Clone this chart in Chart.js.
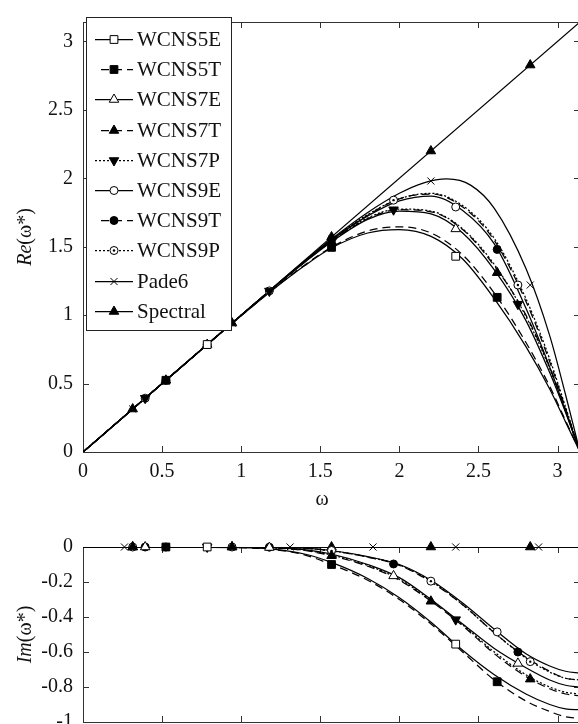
<!DOCTYPE html>
<html>
<head>
<meta charset="utf-8">
<script src="https://cdn.jsdelivr.net/npm/chart.js"></script>
<style>
    html, body { margin: 0; padding: 0; background: #fff; overflow: hidden; }
    #wrap { position: relative; width: 578px; height: 724px; overflow: hidden; }
    #chart_re { position: absolute; left: 0; top: 0; }
    #chart_im { position: absolute; left: 0; top: 520px; }
</style>
</head>
<body>
<div id="wrap">
    <canvas id="chart_re" width="590" height="520"></canvas>
    <canvas id="chart_im" width="590" height="250"></canvas>
</div>
<script>
'use strict';

const PI_MAX = 3.1416;
const labels = ['WCNS5E', 'WCNS5T', 'WCNS7E', 'WCNS7T', 'WCNS7P', 'WCNS9E', 'WCNS9T', 'WCNS9P', 'Pade6', 'Spectral'];
const xTicks = [0, 0.5, 1, 1.5, 2, 2.5, 3];
const reTicks = [0, 0.5, 1, 1.5, 2, 2.5, 3];
const imTicks = [0, -0.2, -0.4, -0.6, -0.8, -1];
const reTitle = ['Re', '(ω*)'];
const imTitle = ['Im', '(ω*)'];
const xTitle = 'ω';

// x positions of the curves
const curveX = [0, 0.5, 1.0, 1.2, 1.4, 1.57, 1.8, 2.0, 2.2, 2.4, 2.6, 2.8, 2.95, 3.05, 3.1416];
const pade6X = [0, 0.5, 1.0, 1.2, 1.4, 1.57, 1.8, 2.0, 2.15, 2.3, 2.45, 2.6, 2.8, 2.95, 3.05, 3.1416];
const lineX = [0, 3.1416];

// Re(w*)
const re5E = [0, 0.5, 0.995, 1.185, 1.36, 1.49, 1.60, 1.625, 1.575, 1.41, 1.12, 0.77, 0.46, 0.22, 0];
const re5T = [0, 0.5, 0.995, 1.188, 1.365, 1.495, 1.615, 1.645, 1.60, 1.44, 1.16, 0.80, 0.48, 0.23, 0];
const re7E = [0, 0.5, 1.0, 1.195, 1.385, 1.535, 1.70, 1.76, 1.74, 1.60, 1.33, 0.96, 0.58, 0.29, 0];
const re7T = [0, 0.5, 1.0, 1.195, 1.387, 1.538, 1.705, 1.77, 1.755, 1.625, 1.36, 1.00, 0.62, 0.31, 0];
const re7P = [0, 0.5, 1.0, 1.196, 1.389, 1.54, 1.71, 1.775, 1.76, 1.63, 1.37, 0.99, 0.61, 0.30, 0];
const re9E = [0, 0.5, 1.0, 1.197, 1.392, 1.548, 1.725, 1.835, 1.87, 1.765, 1.52, 1.05, 0.62, 0.30, 0];
const re9T = [0, 0.5, 1.0, 1.198, 1.393, 1.55, 1.73, 1.85, 1.885, 1.79, 1.545, 1.10, 0.66, 0.32, 0];
const re9P = [0, 0.5, 1.0, 1.198, 1.394, 1.551, 1.735, 1.85, 1.89, 1.80, 1.56, 1.12, 0.68, 0.33, 0];
const rePade6 = [0, 0.5, 1.0, 1.199, 1.395, 1.555, 1.75, 1.89, 1.965, 1.995, 1.95, 1.78, 1.34, 0.85, 0.42, 0];
const reSpectral = [0, 3.1416];

// Im(w*)
const im5E = [0, 0, -0.003, -0.012, -0.04, -0.088, -0.18, -0.29, -0.43, -0.59, -0.73, -0.84, -0.90, -0.925, -0.93];
const im5T = [0, 0, -0.004, -0.014, -0.045, -0.10, -0.19, -0.30, -0.44, -0.60, -0.76, -0.88, -0.94, -0.97, -0.98];
const im7E = [0, 0, 0, -0.004, -0.015, -0.04, -0.10, -0.175, -0.30, -0.44, -0.58, -0.69, -0.76, -0.79, -0.80];
const im7T = [0, 0, 0, -0.005, -0.02, -0.05, -0.11, -0.19, -0.31, -0.45, -0.61, -0.74, -0.81, -0.84, -0.85];
const im7P = [0, 0, 0, -0.005, -0.018, -0.046, -0.105, -0.185, -0.305, -0.445, -0.60, -0.73, -0.80, -0.83, -0.84];
const im9E = [0, 0, 0, -0.001, -0.006, -0.02, -0.055, -0.10, -0.19, -0.32, -0.47, -0.61, -0.68, -0.71, -0.72];
const im9T = [0, 0, 0, -0.001, -0.007, -0.022, -0.058, -0.105, -0.20, -0.33, -0.49, -0.63, -0.71, -0.75, -0.76];
const im9P = [0, 0, 0, -0.001, -0.007, -0.022, -0.057, -0.103, -0.195, -0.33, -0.49, -0.635, -0.715, -0.75, -0.76];
const imPade6 = [0, 0];
const imSpectral = [0, 0];

// marker x positions
const oddPi4 = [0.785, 2.356];
const oddPi6 = [0.524, 1.571, 2.618];
const oddPi8 = [0.393, 1.178, 1.963, 2.749];
const oddPi10 = [0.314, 0.942, 1.571, 2.199, 2.827];
const oddPi12 = [0.262, 0.785, 1.309, 1.833, 2.356, 2.880];

// marker values, upper panel
const reMark5E = [0.785, 1.43];
const reMark5T = [0.524, 1.495, 1.13];
const reMark7E = [0.785, 1.63];
const reMark7T = [0.524, 1.538, 1.31];
const reMark7P = [0.393, 1.176, 1.77, 1.08];
const reMark9E = [0.785, 1.79];
const reMark9T = [0.524, 1.55, 1.48];
const reMark9P = [0.393, 1.177, 1.84, 1.22];
const reMarkPade6 = [0.314, 0.942, 1.555, 1.98, 1.22];
const reMarkSpectral = [0.314, 0.942, 1.571, 2.199, 2.827];

// marker values, lower panel
const imMark5E = [0, -0.555];
const imMark5T = [0, -0.10, -0.77];
const imMark7E = [0, -0.003, -0.165, -0.665];
const imMark7T = [0, 0, -0.05, -0.31, -0.755];
const imMark7P = [0, -0.415];
const imMark9E = [0, -0.02, -0.485];
const imMark9T = [0, -0.001, -0.097, -0.60];
const imMark9P = [0, 0, -0.022, -0.195, -0.655];
const imMarkPade6 = [0, 0, 0, 0, 0, 0];
const imMarkSpectral = [0, 0, 0, 0, 0];

const FONT = '"Liberation Serif", "Times New Roman", serif';
Chart.defaults.font.family = FONT;
Chart.defaults.font.size = 20;
Chart.defaults.color = '#111';

const DASH = [8, 5], DOT = [2, 2];
// WCNS9P gets a small dot drawn inside its open circle
const styles = [
    {dash: [], point: 'rect', radius: 5.5, open: true},
    {dash: DASH, point: 'rect', radius: 5.5, open: false},
    {dash: [], point: 'triangle', radius: 5.5, open: true},
    {dash: DASH, point: 'triangle', radius: 5.5, open: false},
    {dash: DOT, point: 'triangle', radius: 5.5, open: false, rot: 180},
    {dash: [], point: 'circle', radius: 4, open: true},
    {dash: DASH, point: 'circle', radius: 4, open: false},
    {dash: DOT, point: 'circle', radius: 4, open: true, dot: true},
    {dash: [], point: 'crossRot', radius: 5, open: true},
    {dash: [], point: 'triangle', radius: 5.5, open: false}
];

function toPoints(xs, ys) {
    return xs.map((x, i) => ({x: x, y: ys[i]}));
}

function makeDatasets(lineXs, lineYs, markXs, markYs) {
    let ds = [];
    labels.forEach((label, i) => {
        let st = styles[i];
        ds.push({
            label: label,
            data: toPoints(lineXs[i], lineYs[i]),
            borderColor: '#000',
            borderWidth: 1.25,
            borderDash: st.dash,
            pointRadius: 0,
            cubicInterpolationMode: 'monotone',
            fill: false,
            order: 2
        });
        ds.push({
            label: label + ' marks',
            data: toPoints(markXs[i], markYs[i]),
            showLine: false,
            pointStyle: st.point,
            pointRadius: st.radius,
            pointRotation: st.rot || 0,
            pointBackgroundColor: st.open ? '#fff' : '#000',
            pointBorderColor: '#000',
            pointBorderWidth: 1,
            clip: false,
            order: 1
        });
        if (st.dot) {
            ds.push({
                label: label + ' dots',
                data: toPoints(markXs[i], markYs[i]),
                showLine: false,
                pointStyle: 'circle',
                pointRadius: 1.2,
                pointBackgroundColor: '#000',
                pointBorderColor: '#000',
                pointBorderWidth: 0,
                clip: false,
                order: 0
            });
        }
    });
    return ds;
}

function makeScales(yMin, yMax, yTickValues, xAxisHeight) {
    return {
        x: {
            type: 'linear', min: 0, max: PI_MAX,
            afterBuildTicks: s => { s.ticks = xTicks.map(v => ({value: v})); },
            afterFit: s => { s.height = xAxisHeight; },
            grid: {display: false, drawTicks: false},
            border: {display: false},
            ticks: {padding: 8, maxRotation: 0, autoSkip: false, callback: v => String(v)}
        },
        y: {
            type: 'linear', min: yMin, max: yMax,
            afterBuildTicks: s => { s.ticks = yTickValues.map(v => ({value: v})); },
            afterFit: s => { s.width = 83; },
            grid: {display: false, drawTicks: false},
            border: {display: false},
            ticks: {padding: 10, autoSkip: false, callback: v => String(v)}
        }
    };
}

// box + inward ticks, like the original plot
const framePlugin = {
    id: 'frame',
    beforeDatasetsDraw(chart) {
        let {ctx, chartArea: a, scales} = chart;
        ctx.save();
        ctx.strokeStyle = '#333';
        ctx.lineWidth = 1;
        ctx.strokeRect(a.left + 0.5, a.top + 0.5, a.right - a.left, a.bottom - a.top);
        ctx.beginPath();
        scales.x.ticks.forEach(t => {
            let px = Math.round(scales.x.getPixelForValue(t.value)) + 0.5;
            ctx.moveTo(px, a.bottom); ctx.lineTo(px, a.bottom - 6);
            ctx.moveTo(px, a.top); ctx.lineTo(px, a.top + 6);
        });
        scales.y.ticks.forEach(t => {
            let py = Math.round(scales.y.getPixelForValue(t.value)) + 0.5;
            ctx.moveTo(a.left, py); ctx.lineTo(a.left + 6, py);
            ctx.moveTo(a.right, py); ctx.lineTo(a.right - 6, py);
        });
        ctx.stroke();
        ctx.restore();
    }
};

const titlePlugin = {
    id: 'axisTitles',
    afterDraw(chart, args, opts) {
        let {ctx, chartArea: a} = chart;
        ctx.save();
        ctx.fillStyle = '#111';
        ctx.textBaseline = 'middle';
        if (opts.y) {
            let italic = 'italic 20px ' + FONT, normal = '20px ' + FONT;
            ctx.font = italic;
            let w1 = ctx.measureText(opts.y[0]).width;
            ctx.font = normal;
            let w2 = ctx.measureText(opts.y[1]).width;
            ctx.translate(opts.yTitleX, (a.top + a.bottom) / 2);
            ctx.rotate(-Math.PI / 2);
            ctx.textAlign = 'left';
            let x0 = -(w1 + w2) / 2;
            ctx.font = italic;
            ctx.fillText(opts.y[0], x0, 0);
            ctx.font = normal;
            ctx.fillText(opts.y[1], x0 + w1, 0);
            ctx.setTransform(1, 0, 0, 1, 0, 0);
        }
        if (opts.x) {
            ctx.font = '20px ' + FONT;
            ctx.textAlign = 'center';
            ctx.fillText(opts.x, opts.xTitleX, opts.xTitleY);
        }
        ctx.restore();
    }
};

function drawMark(ctx, st, x, y) {
    ctx.fillStyle = st.open ? '#fff' : '#000';
    ctx.strokeStyle = '#000';
    ctx.lineWidth = 1;
    ctx.setLineDash([]);
    Chart.helpers.drawPoint(ctx, {pointStyle: st.point, rotation: st.rot || 0, radius: st.radius, borderWidth: 1}, x, y);
    if (st.dot) {
        ctx.fillStyle = '#000';
        ctx.beginPath();
        ctx.arc(x, y, 1.2, 0, Math.PI * 2);
        ctx.fill();
    }
}

const legendPlugin = {
    id: 'boxLegend',
    afterDatasetsDraw(chart, args, opts) {
        if (!opts.show) return;
        let ctx = chart.ctx;
        ctx.save();
        ctx.fillStyle = '#fff';
        ctx.strokeStyle = '#222';
        ctx.lineWidth = 1;
        ctx.fillRect(86, 17, 145, 313);
        ctx.strokeRect(86.5, 17.5, 145, 313);
        labels.forEach((label, i) => {
            let st = styles[i];
            let y = Math.round(39 + i * 30.2) + 0.5;
            ctx.strokeStyle = '#000';
            ctx.lineWidth = 1.25;
            ctx.setLineDash(st.dash);
            ctx.beginPath();
            ctx.moveTo(st.dash === DASH ? 101 : 95, y);
            ctx.lineTo(133, y);
            ctx.stroke();
            drawMark(ctx, st, 114, y);
            ctx.fillStyle = '#111';
            ctx.font = '21px ' + FONT;
            ctx.textAlign = 'left';
            ctx.textBaseline = 'middle';
            ctx.fillText(label, 137, y + 1);
        });
        ctx.restore();
    }
};

function renderChart(select, datasets, scales, padding, pluginOpts) {
    let ctx = document.getElementById(select).getContext('2d');
    return new Chart(ctx, {
        type: 'line',
        data: {datasets: datasets},
        options: {
            responsive: false,
            animation: false,
            devicePixelRatio: 1,
            events: [],
            layout: {padding: padding},
            scales: scales,
            plugins: {
                legend: {display: false},
                tooltip: {enabled: false},
                axisTitles: pluginOpts.titles,
                boxLegend: {show: pluginOpts.legend}
            }
        },
        plugins: [framePlugin, legendPlugin, titlePlugin]
    });
}

let reLineX = [curveX, curveX, curveX, curveX, curveX, curveX, curveX, curveX, pade6X, lineX],
    reLineY = [re5E, re5T, re7E, re7T, re7P, re9E, re9T, re9P, rePade6, reSpectral],
    reMarkX = [oddPi4, oddPi6, oddPi4, oddPi6, oddPi8, oddPi4, oddPi6, oddPi8, oddPi10, oddPi10],
    reMarkY = [reMark5E, reMark5T, reMark7E, reMark7T, reMark7P, reMark9E, reMark9T, reMark9P, reMarkPade6, reMarkSpectral],
    imLineX = reLineX.slice(0, 8).concat([lineX, lineX]),
    imLineY = [im5E, im5T, im7E, im7T, im7P, im9E, im9T, im9P, imPade6, imSpectral],
    imMarkX = [oddPi4, oddPi6, oddPi8, oddPi10, oddPi4, oddPi6, oddPi8, oddPi10, oddPi12, oddPi10],
    imMarkY = [imMark5E, imMark5T, imMark7E, imMark7T, imMark7P, imMark9E, imMark9T, imMark9P, imMarkPade6, imMarkSpectral];

window.ChartRe = renderChart('chart_re',
    makeDatasets(reLineX, reLineY, reMarkX, reMarkY),
    makeScales(0, PI_MAX, reTicks, 520 - 452),
    {top: 9, right: 10, bottom: 0, left: 0},
    {titles: {y: reTitle, yTitleX: 26, x: xTitle, xTitleX: 322, xTitleY: 500}, legend: true});

window.ChartIm = renderChart('chart_im',
    makeDatasets(imLineX, imLineY, imMarkX, imMarkY),
    makeScales(-1, 0, imTicks, 250 - 202),
    {top: 27, right: 10, bottom: 0, left: 0},
    {titles: {y: imTitle, yTitleX: 26}, legend: false});
</script>
</body>
</html>
